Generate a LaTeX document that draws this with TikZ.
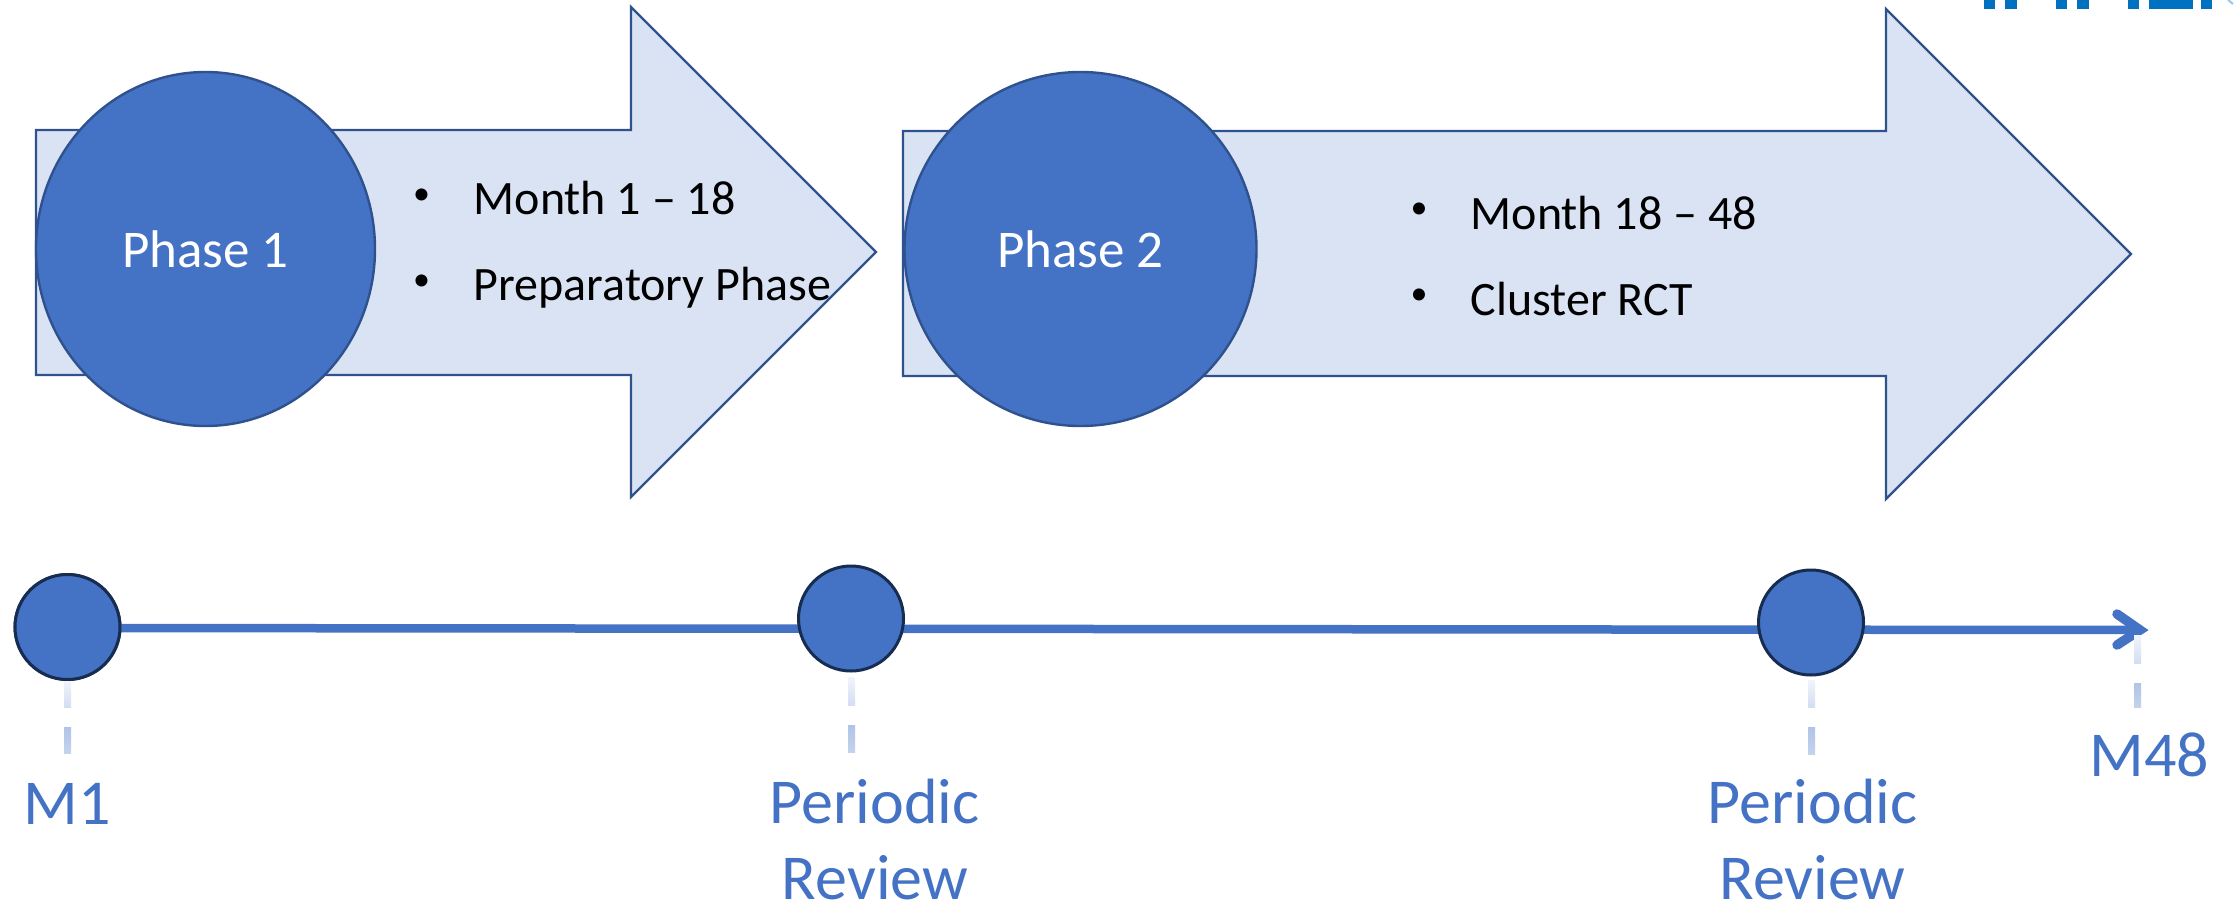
\documentclass[tikz,border=0pt]{standalone}
\usepackage{fontspec}
\setmainfont{Carlito}
\usetikzlibrary{shapes.geometric}
\definecolor{blueA}{HTML}{4472C4}
\definecolor{edgeA}{HTML}{2F528F}
\definecolor{fillA}{HTML}{DAE3F3}
\definecolor{navyA}{HTML}{172C51}
\definecolor{logoA}{HTML}{0070C0}
\definecolor{dashA}{HTML}{F1F4FB}
\definecolor{dashB}{HTML}{D3DEF2}
\definecolor{dashC}{HTML}{AFC4E8}
\definecolor{dashD}{HTML}{C5D3EC}
\tikzset{
  x=1pt,y=-1pt,
  bigarrow/.style={draw=edgeA,fill=fillA,line width=2.4pt,line join=miter},
  phase/.style={draw=edgeA,fill=blueA,line width=2.4pt,ellipse,inner sep=0pt,minimum width=#1,minimum height=354pt},
  phasetext/.style={anchor=base,inner sep=0pt,text=white,font=\fontsize{53}{63}\selectfont},
  mile/.style={circle,draw=navyA,fill=blueA,line width=3pt,inner sep=0pt,minimum size=105pt},
  bodytext/.style={anchor=base west,inner sep=0pt,text=black,font=\fontsize{48}{58}\selectfont},
  bulletmark/.style={anchor=center,inner sep=0pt,text=black,font=\fontsize{34}{40}\selectfont},
  milelabel/.style={anchor=base,inner sep=0pt,text=blueA,font=\fontsize{64}{78}\selectfont},
  timeline/.style={draw=blueA,line width=8.5pt},
  headline/.style={draw=blueA,line width=9.5pt,line cap=round,line join=miter},
  dashtop/.style={top color=dashA,bottom color=dashB,draw=none},
  dashlow/.style={top color=dashC,bottom color=dashD,draw=none},
  logobar/.style={fill=logoA,draw=none}
}
\begin{document}
\begin{tikzpicture}
\useasboundingbox (0,0) rectangle (2234,905);
% logo fragments cut by the top edge
\foreach \a/\b in {1984/1995,2005/2017,2056/2067,2077/2089,2128/2139,2149/2193,2201/2212}
  \fill[logobar] (\a,0) rectangle (\b,9);
\draw[logoA!40,line width=2pt] (2228,0) -- (2233,4);
% arrows
\draw[bigarrow] (36,130) -- (631,130) -- (631,7) -- (876,252) -- (631,497) -- (631,375) -- (36,375) -- cycle;
\draw[bigarrow] (903,131) -- (1886,131) -- (1886,9) -- (2131,254) -- (1886,499) -- (1886,376) -- (903,376) -- cycle;
% phase circles
\node[phase=339pt] (p1) at (205.5,249) {};
\node[phase=352pt] (p2) at (1080.5,249) {};
\node[phasetext] (p1t) at (205.5,267.5) {Phase 1};
\node[phasetext] (p2t) at (1080.5,267.5) {Phase 2};
% bullets
\node[bulletmark] (b1) at (421.5,197) {•};
\node[bodytext] (t1) at (473.5,214) {Month 1 – 18};
\node[bulletmark] (b2) at (421.5,283) {•};
\node[bodytext] (t2) at (473.5,300) {Preparatory Phase};
\node[bulletmark] (b3) at (1419,211) {•};
\node[bodytext] (t3) at (1470.5,229.5) {Month 18 – 48};
\node[bulletmark] (b4) at (1419,297) {•};
\node[bodytext] (t4) at (1470.5,315) {Cluster RCT};
% timeline
\coordinate (tip) at (2140,630);
\coordinate (barbu) at (2117,614);
\coordinate (barbd) at (2117,645);
\coordinate (start) at (67.5,628);
\node[mile] (m1) at (67.5,627) {};
\draw[timeline] (start) -- (tip);
\draw[headline] (barbu) -- (tip) -- (barbd);
\node[mile] at (m1) {};
\node[mile] (m2) at (851,618.5) {};
\node[mile] (m3) at (1811,622.5) {};
% drop dashes
\foreach \x/\ya/\yb/\yc/\yd in {67.5/681/707/727/753, 851.7/677/705/725/752, 1811.7/680/707/727/754, 2137.5/635/663/683/707}{
  \shade[dashtop] (\x-3.5,\ya) rectangle (\x+3.5,\yb);
  \shade[dashlow] (\x-3.5,\yc) rectangle (\x+3.5,\yd);
}
% labels
\node[milelabel] (l1) at (67.5,824) {M1};
\node[milelabel] (l2) at (2149.5,776) {M48};
\node[milelabel] (l3) at (874.5,823) {Periodic};
\node[milelabel] (l4) at (875,899.5) {Review};
\node[milelabel] (l5) at (1812.5,823) {Periodic};
\node[milelabel] (l6) at (1812.5,899.5) {Review};
\end{tikzpicture}
\end{document}
